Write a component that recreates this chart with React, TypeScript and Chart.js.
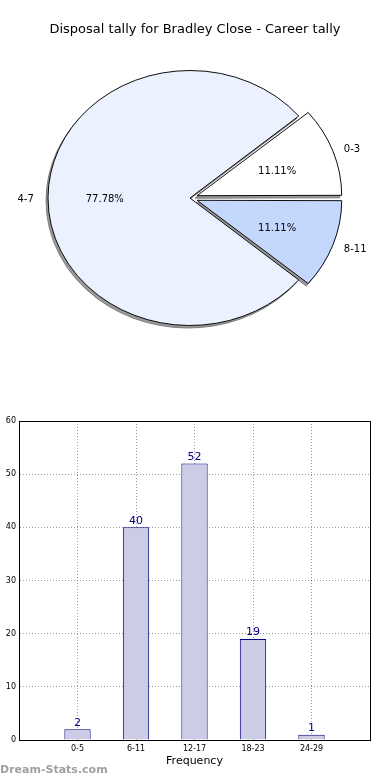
import React, { useEffect, useRef } from "react";
import { Chart, registerables } from "chart.js";

Chart.register(...registerables);

// ---- data ----
const chartTitle = "Disposal tally for Bradley Close - Career tally";
const pieLabels = ["0-3", "4-7", "8-11"];
const pieValues = [1, 7, 1];
const pieColors = ["#ffffff", "#ebf1fe", "#c4d8fe"];
const pieExplode = [30, 0, 30];

const barCategories = ["0-5", "6-11", "12-17", "18-23", "24-29"];
const barValues = [2, 40, 52, 19, 1];
const yTicksMax = 60;
const yTicksStep = 10;
const xAxisTitle = "Frequency";
const watermark = "Dream-Stats.com";

const FONT = "'DejaVu Sans', 'Liberation Sans', sans-serif";
const ELLIPSE_K = 127.5 / 142;
const SHADOW_FILL = "#9a9a9a";
const SHADOW_EDGE = "#7a7a7a";

function applyEllipse(ctx: CanvasRenderingContext2D, x: number, y: number) {
  ctx.translate(x, y);
  ctx.scale(1, ELLIPSE_K);
  ctx.translate(-x, -y);
}

function PieChart() {
  const ref = useRef<HTMLCanvasElement>(null);
  useEffect(() => {
    if (!ref.current) return;
    // matplotlib draws counter-clockwise from east; chart.js clockwise -> reverse order
    const order = pieValues.map((_, i) => pieValues.length - 1 - i);
    const total = pieValues.reduce((a, b) => a + b, 0);

    const ellipsePlugin = {
      id: "ellipse",
      beforeDatasetsDraw(chart: any) {
        const meta = chart.getDatasetMeta(0);
        const el = meta.data[0];
        const ctx = chart.ctx;
        // shadow pass
        ctx.save();
        ctx.translate(-2, 2.5);
        applyEllipse(ctx, el.x, el.y);
        meta.data.forEach((arc: any) => {
          const orig = arc.options;
          arc.options = Object.assign({}, orig, { backgroundColor: SHADOW_FILL, borderColor: SHADOW_EDGE });
          arc.draw(ctx);
          arc.options = orig;
        });
        ctx.restore();
        // main pass
        ctx.save();
        applyEllipse(ctx, el.x, el.y);
      },
      afterDatasetsDraw(chart: any) {
        chart.ctx.restore();
      },
      afterDraw(chart: any) {
        const meta = chart.getDatasetMeta(0);
        const ctx = chart.ctx;
        ctx.save();
        ctx.fillStyle = "#000";
        ctx.textBaseline = "middle";
        // title
        ctx.font = `13px ${FONT}`;
        ctx.textAlign = "center";
        ctx.fillText(chartTitle, chart.width / 2, 30);
        ctx.font = `10px ${FONT}`;
        meta.data.forEach((arc: any, j: number) => {
          const i = order[j];
          const mid = (arc.startAngle + arc.endAngle) / 2;
          const t = (arc.options.offset || 0) / 4;
          const cx = arc.x + Math.cos(mid) * t;
          const cy = arc.y + Math.sin(mid) * t;
          const r = arc.outerRadius;
          const map = (d: number) => ({
            x: cx + Math.cos(mid) * d,
            y: arc.y + (cy + Math.sin(mid) * d - arc.y) * ELLIPSE_K + 1.5,
          });
          const lp = map(1.1 * r);
          ctx.textAlign = Math.cos(mid) >= 0 ? "left" : "right";
          ctx.fillText(pieLabels[i], lp.x, lp.y);
          const pp = map(0.6 * r);
          ctx.textAlign = "center";
          ctx.fillText(((pieValues[i] / total) * 100).toFixed(2) + "%", pp.x, pp.y);
        });
        ctx.restore();
      },
    };

    const chart = new Chart(ref.current, {
      type: "pie",
      data: {
        labels: order.map((i) => pieLabels[i]),
        datasets: [
          {
            data: order.map((i) => pieValues[i]),
            backgroundColor: order.map((i) => pieColors[i]),
            offset: order.map((i) => pieExplode[i]),
            borderColor: "#000",
            borderWidth: 1,
            borderJoinStyle: "miter",
            radius: 142,
          } as any,
        ],
      },
      options: {
        animation: false,
        responsive: false,
        rotation: 90,
        layout: { padding: { left: 0, right: 10, top: 38, bottom: 32 } },
        plugins: {
          legend: { display: false },
          tooltip: { enabled: false },
          title: { display: false },
        },
      } as any,
      plugins: [ellipsePlugin],
    });
    return () => chart.destroy();
  }, []);
  return <canvas ref={ref} width={390} height={390} style={{ display: "block" }} />;
}

function BarChart() {
  const ref = useRef<HTMLCanvasElement>(null);
  useEffect(() => {
    if (!ref.current) return;
    const labels = ["", ...barCategories, ""];
    const values: (number | null)[] = [null, ...barValues, null];

    const framePlugin = {
      id: "frame",
      afterDraw(chart: any) {
        const { ctx, chartArea: a } = chart;
        ctx.save();
        ctx.strokeStyle = "#000";
        ctx.lineWidth = 1;
        ctx.strokeRect(Math.round(a.left) + 0.5, Math.round(a.top) + 0.5, Math.round(a.right - a.left), Math.round(a.bottom - a.top));
        const meta = chart.getDatasetMeta(0);
        ctx.fillStyle = "#000080";
        ctx.font = `11px ${FONT}`;
        ctx.textAlign = "center";
        ctx.textBaseline = "bottom";
        meta.data.forEach((bar: any, i: number) => {
          const v = values[i];
          if (v == null) return;
          ctx.fillText(String(v), bar.x, bar.y - 1);
        });
        ctx.restore();
      },
    };

    const gridStyle = { color: "rgba(0,0,0,0.38)", lineWidth: 1, drawTicks: false };

    const chart = new Chart(ref.current, {
      type: "bar",
      data: {
        labels,
        datasets: [
          {
            data: values,
            backgroundColor: "#ccccE6",
            borderColor: "#000080",
            borderWidth: 1,
            barPercentage: 0.45,
            categoryPercentage: 1,
          },
        ],
      },
      options: {
        animation: false,
        responsive: false,
        layout: { padding: { left: 0, right: 20, top: 31, bottom: 0 } },
        plugins: { legend: { display: false }, tooltip: { enabled: false } },
        scales: {
          x: {
            type: "category",
            offset: false,
            grid: { ...gridStyle, offset: false },
            border: { display: true, color: "#000", dash: [1, 2] },
            ticks: {
              autoSkip: false,
              maxRotation: 0,
              color: "#000",
              font: { family: FONT, size: 8 },
              padding: 4,
            },
            title: {
              display: true,
              text: xAxisTitle,
              color: "#000",
              font: { family: FONT, size: 11 },
              padding: { top: 2, bottom: 12 },
            },
            afterFit(s: any) {
              s.height = 40;
            },
          },
          y: {
            min: 0,
            max: yTicksMax,
            grid: gridStyle,
            border: { display: true, color: "#000", dash: [1, 2] },
            ticks: {
              stepSize: yTicksStep,
              color: "#000",
              font: { family: FONT, size: 8 },
              padding: 3,
            },
            afterFit(s: any) {
              s.width = 19;
            },
          },
        },
      } as any,
      plugins: [framePlugin],
    });
    return () => chart.destroy();
  }, []);
  return <canvas ref={ref} width={390} height={390} style={{ display: "block" }} />;
}

export default function App() {
  return (
    <div style={{ position: "absolute", left: 0, top: 0, width: 390, height: 780, overflow: "hidden", background: "#fff" }}>
      <div style={{ position: "absolute", left: 0, top: 0 }}>
        <PieChart />
      </div>
      <div style={{ position: "absolute", left: 0, top: 390 }}>
        <BarChart />
      </div>
      <div
        style={{
          position: "absolute",
          left: 0,
          top: 762,
          fontFamily: FONT,
          fontWeight: "bold",
          fontSize: 11,
          color: "#a0a0a0",
          lineHeight: "16px",
          whiteSpace: "nowrap",
        }}
      >
        {watermark}
      </div>
    </div>
  );
}
